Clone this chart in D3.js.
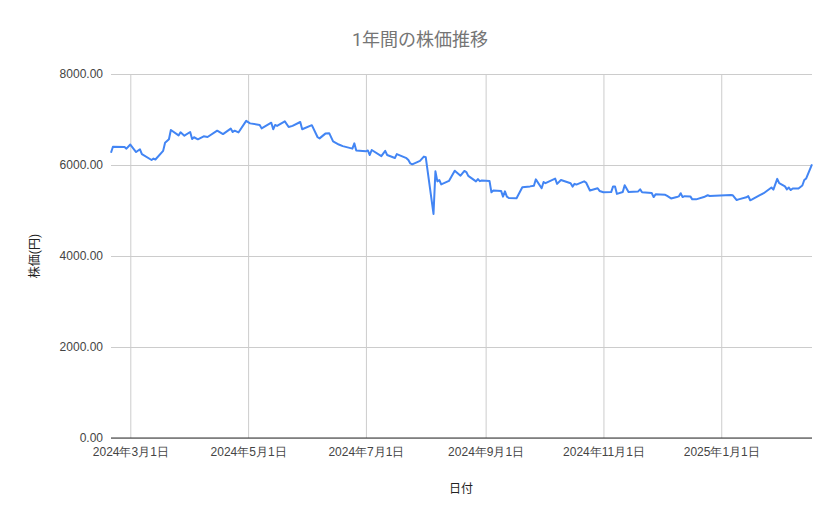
<!DOCTYPE html>
<html>
<head>
<meta charset="utf-8">
<script src="https://cdn.jsdelivr.net/npm/d3@7"></script>
<style>
  body { margin: 0; background: #fff; }
  svg { font-family: Roboto, "Noto Sans CJK JP", sans-serif; }
</style>
</head>
<body>
<div id="chart"></div>
<script>
// dates and closing prices
const dates = [
  '2024-02-20', '2024-02-21', '2024-02-27', '2024-02-28', '2024-03-01', '2024-03-04', '2024-03-06', '2024-03-07',
  '2024-03-12', '2024-03-13', '2024-03-14', '2024-03-18', '2024-03-19', '2024-03-21', '2024-03-22', '2024-03-26',
  '2024-03-27', '2024-03-29', '2024-04-01', '2024-04-02', '2024-04-03', '2024-04-05', '2024-04-08', '2024-04-10',
  '2024-04-15', '2024-04-18', '2024-04-22', '2024-04-23', '2024-04-24', '2024-04-26', '2024-04-30', '2024-05-02',
  '2024-05-07', '2024-05-08', '2024-05-13', '2024-05-14', '2024-05-15', '2024-05-16', '2024-05-20', '2024-05-22',
  '2024-05-24', '2024-05-28', '2024-05-29', '2024-06-03', '2024-06-06', '2024-06-07', '2024-06-10', '2024-06-12',
  '2024-06-14', '2024-06-17', '2024-06-19', '2024-06-24', '2024-06-25', '2024-06-26', '2024-07-01', '2024-07-02',
  '2024-07-03', '2024-07-04', '2024-07-09', '2024-07-11', '2024-07-12', '2024-07-16', '2024-07-17', '2024-07-22',
  '2024-07-23', '2024-07-24', '2024-07-25', '2024-07-29', '2024-07-31', '2024-08-01', '2024-08-05', '2024-08-06',
  '2024-08-07', '2024-08-08', '2024-08-09', '2024-08-13', '2024-08-16', '2024-08-19', '2024-08-21', '2024-08-22',
  '2024-08-23', '2024-08-27', '2024-08-28', '2024-08-29', '2024-08-30', '2024-09-03', '2024-09-04', '2024-09-05',
  '2024-09-09', '2024-09-10', '2024-09-11', '2024-09-12', '2024-09-13', '2024-09-17', '2024-09-20', '2024-09-24',
  '2024-09-26', '2024-09-27', '2024-09-30', '2024-10-01', '2024-10-02', '2024-10-07', '2024-10-08', '2024-10-10',
  '2024-10-15', '2024-10-16', '2024-10-17', '2024-10-18', '2024-10-22', '2024-10-23', '2024-10-25', '2024-10-29',
  '2024-10-30', '2024-11-01', '2024-11-05', '2024-11-06', '2024-11-07', '2024-11-08', '2024-11-11', '2024-11-12',
  '2024-11-14', '2024-11-19', '2024-11-20', '2024-11-21', '2024-11-26', '2024-11-27', '2024-11-28', '2024-12-03',
  '2024-12-04', '2024-12-06', '2024-12-09', '2024-12-10', '2024-12-11', '2024-12-12', '2024-12-13', '2024-12-16',
  '2024-12-17', '2024-12-19', '2024-12-23', '2024-12-25', '2024-12-26', '2025-01-06', '2025-01-07', '2025-01-09',
  '2025-01-10', '2025-01-14', '2025-01-15', '2025-01-16', '2025-01-17', '2025-01-21', '2025-01-23', '2025-01-27',
  '2025-01-28', '2025-01-30', '2025-01-31', '2025-02-03', '2025-02-04', '2025-02-05', '2025-02-06', '2025-02-07',
  '2025-02-10', '2025-02-12', '2025-02-13', '2025-02-14', '2025-02-17'
];

const prices = [
  6270, 6400, 6395, 6360, 6450, 6285, 6345, 6240,
  6110, 6140, 6120, 6310, 6490, 6565, 6770, 6650,
  6720, 6645, 6725, 6570, 6610, 6565, 6630, 6615,
  6755, 6680, 6800, 6725, 6755, 6715, 6970, 6915,
  6880, 6805, 6930, 6785, 6880, 6860, 6960, 6835,
  6860, 6945, 6785, 6875, 6610, 6585, 6690, 6700,
  6520, 6450, 6415, 6360, 6475, 6320, 6300, 6320,
  6220, 6330, 6195, 6310, 6220, 6155, 6240, 6150,
  6110, 6035, 6015, 6090, 6185, 6170, 4925, 5860,
  5640, 5670, 5575, 5650, 5875, 5765, 5870, 5845,
  5760, 5640, 5690, 5645, 5660, 5650, 5400, 5440,
  5430, 5305, 5420, 5305, 5275, 5270, 5510, 5530,
  5545, 5685, 5490, 5625, 5600, 5700, 5585, 5670,
  5600, 5525, 5585, 5570, 5640, 5615, 5440, 5490,
  5430, 5400, 5405, 5530, 5530, 5365, 5405, 5555,
  5405, 5420, 5465, 5400, 5385, 5295, 5355, 5345,
  5320, 5265, 5295, 5310, 5380, 5295, 5315, 5310,
  5245, 5245, 5295, 5335, 5320, 5340, 5335, 5230,
  5245, 5290, 5315, 5225, 5245, 5340, 5380, 5505,
  5460, 5695, 5600, 5530, 5465, 5505, 5450, 5485,
  5485, 5550, 5670, 5705, 6015
];

const xTicks = ['2024-03-01', '2024-05-01', '2024-07-01', '2024-09-01', '2024-11-01', '2025-01-01'];
const yTicks = [0, 2000, 4000, 6000, 8000];

const width = 839;
const height = 519;
const margin = { top: 74, right: 27, bottom: 81, left: 111 };

const parse = d3.timeParse('%Y-%m-%d');
const data = dates.map((d, i) => ({ date: parse(d), value: prices[i] }));

const x = d3.scaleTime()
  .domain(d3.extent(data, d => d.date))
  .range([margin.left, width - margin.right]);

const y = d3.scaleLinear()
  .domain([0, 8000])
  .range([height - margin.bottom, margin.top]);

const svg = d3.select('#chart').append('svg')
  .attr('width', width)
  .attr('height', height);

svg.append('rect').attr('width', width).attr('height', height).attr('fill', '#fff');

// horizontal gridlines + y labels
const yAxis = svg.append('g')
  .attr('transform', `translate(${margin.left},0)`)
  .call(d3.axisLeft(y).tickValues(yTicks).tickFormat(d3.format('.2f'))
    .tickSize(-(width - margin.left - margin.right)).tickPadding(8));
yAxis.select('.domain').remove();
yAxis.selectAll('.tick line').attr('stroke', '#cccccc');
yAxis.selectAll('.tick text').attr('fill', '#444').style('font-size', '12px');

// vertical gridlines + x labels
const xAxis = svg.append('g')
  .attr('transform', `translate(0,${height - margin.bottom})`)
  .call(d3.axisBottom(x).tickValues(xTicks.map(parse))
    .tickFormat(d3.timeFormat('%Y年%-m月%-d日'))
    .tickSize(-(height - margin.top - margin.bottom)).tickPadding(9));
xAxis.select('.domain').remove();
xAxis.selectAll('.tick line').attr('stroke', '#cccccc');
xAxis.selectAll('.tick text').attr('fill', '#444').style('font-size', '12px');

// baseline
svg.append('line')
  .attr('x1', margin.left).attr('x2', width - margin.right)
  .attr('y1', y(0)).attr('y2', y(0))
  .attr('stroke', '#333').attr('stroke-width', 1);

const line = d3.line()
  .x(d => x(d.date))
  .y(d => y(d.value));

svg.append('path')
  .datum(data)
  .attr('fill', 'none')
  .attr('stroke', '#4285f4')
  .attr('stroke-width', 2)
  .attr('stroke-linejoin', 'round')
  .attr('d', line);

svg.append('text')
  .attr('x', 420).attr('y', 46)
  .attr('text-anchor', 'middle')
  .attr('fill', '#757575')
  .style('font-size', '18px')
  .text('1年間の株価推移');

svg.append('text')
  .attr('x', 461).attr('y', 493)
  .attr('text-anchor', 'middle')
  .attr('fill', '#222')
  .style('font-size', '12px')
  .text('日付');

svg.append('text')
  .attr('transform', `translate(39,${(margin.top + height - margin.bottom) / 2}) rotate(-90)`)
  .attr('text-anchor', 'middle')
  .attr('fill', '#222')
  .style('font-size', '12px')
  .text('株価(円)');
</script>
</body>
</html>
